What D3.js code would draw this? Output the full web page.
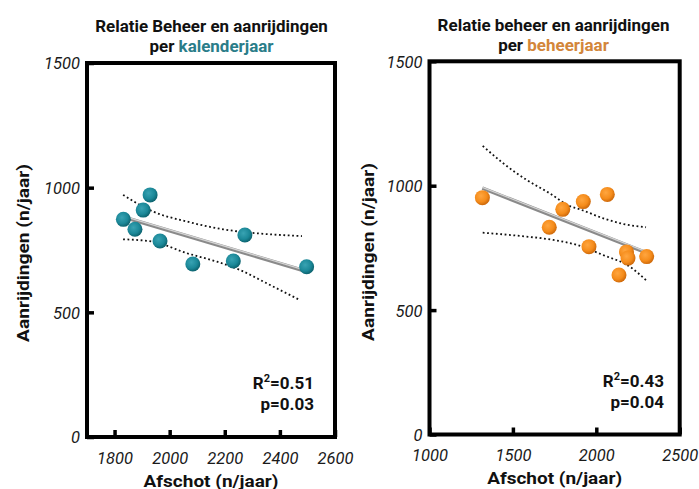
<!DOCTYPE html>
<html>
<head>
<meta charset="utf-8">
<script src="https://cdn.jsdelivr.net/npm/d3@7"></script>
<style>
body{margin:0;background:#fff;}
svg{display:block;font-family:Roboto,'Liberation Sans',sans-serif;}
</style>
</head>
<body>
<div id="chart"></div>
<script>
// per kalenderjaar
var kalAfschot = [1832, 1874, 1904, 1929, 1965, 2084, 2231, 2273, 2497];
var kalAanrij  = [873, 833, 910, 971, 786, 694, 706, 810, 683];
var kalFitX = [1832, 2497], kalFitY = [882, 664];
var kalUpX = [1831, 1940, 2063, 2194, 2317, 2480];
var kalUpY = [971, 904, 864, 833, 817, 806];
var kalLoX = [1831, 1940, 2063, 2172, 2255, 2353, 2473];
var kalLoY = [793, 783, 737, 703, 670, 616, 549];
var kalXTicks = [1800, 2000, 2200, 2400, 2600];
var kalStats = ['0.51', '0.03'];

// per beheerjaar
var behAfschot = [1317, 1718, 1799, 1922, 2066, 1956, 2181, 2190, 2136, 2302];
var behAanrij  = [952, 833, 905, 936, 965, 755, 734, 709, 641, 715];
var behFitX = [1317, 2302], behFitY = [990, 730];
var behUpX = [1319, 1442, 1583, 1722, 1842, 1902, 2042, 2162, 2298];
var behUpY = [1160, 1090, 1023, 969, 918, 905, 869, 846, 833];
var behLoX = [1319, 1543, 1742, 1883, 2042, 2202, 2302];
var behLoY = [811, 798, 782, 762, 721, 674, 618];
var behXTicks = [1000, 1500, 2000, 2500];
var behStats = ['0.43', '0.04'];

var yTicks = [0, 500, 1000, 1500];

var svg = d3.select('#chart').append('svg').attr('width', 699).attr('height', 489);

var defs = svg.append('defs');
function ball(id, c0, c1, c2) {
    var gr = defs.append('radialGradient').attr('id', id).attr('cx', '40%').attr('cy', '38%').attr('r', '62%');
    gr.append('stop').attr('offset', '0%').attr('stop-color', c0);
    gr.append('stop').attr('offset', '65%').attr('stop-color', c1);
    gr.append('stop').attr('offset', '100%').attr('stop-color', c2);
}
ball('teal', '#39a3b3', '#1b8898', '#0d6470');
ball('orange', '#ffa640', '#f58c1b', '#cf6a0b');

// squeeze a text group to a given width
function fit(g, w, tr) {
    var bw = g.node().getBBox().width;
    g.attr('transform', tr + ' scale(' + (w / bw) + ',1)');
}

function drawPanel(p) {
    var x = d3.scaleLinear().domain(p.xDomain).range([p.x0, p.x1]);
    var y = d3.scaleLinear().domain([0, 1500]).range([p.y1, p.y0]);
    var g = svg.append('g');

    // titles
    var t1 = g.append('g');
    t1.append('text').attr('text-anchor', 'middle').style('font-size', '16px').style('font-weight', 700)
        .attr('fill', '#111').text(p.title);
    var sc = p.titleW / t1.node().getBBox().width;
    t1.attr('transform', 'translate(' + p.tcx + ',' + p.tb1 + ') scale(' + sc + ',1)');
    var t2 = g.append('g').attr('transform', 'translate(' + p.tcx + ',' + p.tb2 + ') scale(' + sc + ',1)');
    var tt = t2.append('text').attr('text-anchor', 'middle').style('font-size', '16px').style('font-weight', 700).attr('fill', '#111');
    tt.append('tspan').text('per ');
    tt.append('tspan').attr('fill', p.wordColor).text(p.word);

    // axes with inward ticks
    var xa = g.append('g').attr('transform', 'translate(0,' + p.y1 + ')')
        .call(d3.axisBottom(x).tickValues(p.xTicks).tickSize(-7).tickPadding(15).tickFormat(d3.format('d')));
    var ya = g.append('g').attr('transform', 'translate(' + p.x0 + ',0)')
        .call(d3.axisLeft(y).tickValues(yTicks).tickSize(-7).tickPadding(7).tickFormat(d3.format('d')));
    [xa, ya].forEach(a => {
        a.select('.domain').remove();
        a.selectAll('line').attr('stroke', '#000').attr('stroke-width', 3.5);
        a.selectAll('text').attr('fill', '#1a1a1a').style('font-size', '16.5px').style('font-style', 'italic')
            .style('font-weight', 400).style('font-family', 'Roboto, sans-serif');
    });
    ya.selectAll('text').attr('dy', '0.36em');

    // frame
    g.append('rect').attr('x', p.x0).attr('y', p.y0).attr('width', p.x1 - p.x0).attr('height', p.y1 - p.y0)
        .attr('fill', 'none').attr('stroke', '#000').attr('stroke-width', 4);

    // confidence bands
    var ln = d3.line().x(d => x(d[0])).y(d => y(d[1])).curve(d3.curveMonotoneX);
    [[p.upX, p.upY], [p.loX, p.loY]].forEach(b => {
        g.append('path').attr('d', ln(d3.zip(b[0], b[1]))).attr('fill', 'none')
            .attr('stroke', '#111').attr('stroke-width', 1.8).attr('stroke-dasharray', '1.8,2.6');
    });

    // fit line
    var fl = d3.line().x(d => x(d[0])).y(d => y(d[1]));
    g.append('path').attr('d', fl(d3.zip(p.fitX, p.fitY))).attr('stroke', '#8a8a8a').attr('stroke-width', 3.6);
    g.append('path').attr('d', fl(d3.zip(p.fitX, p.fitY))).attr('stroke', '#d4d4d4').attr('stroke-width', 1.3)
        .attr('transform', 'translate(0,-0.9)');

    // points
    g.selectAll('circle.pt').data(d3.zip(p.ax, p.ay)).enter().append('circle').attr('class', 'pt')
        .attr('cx', d => x(d[0])).attr('cy', d => y(d[1])).attr('r', 7.5).attr('fill', 'url(#' + p.grad + ')');

    // stats
    var st = g.append('text').attr('text-anchor', 'end').attr('x', p.sx).attr('y', p.y1 - 48)
        .style('font-size', '17px').style('font-weight', 700).attr('fill', '#111');
    st.append('tspan').text('R');
    st.append('tspan').attr('dy', -7).style('font-size', '11px').text('2');
    st.append('tspan').attr('dy', 7).text('=' + p.stats[0]);
    g.append('text').attr('text-anchor', 'end').attr('x', p.sx).attr('y', p.y1 - 27)
        .style('font-size', '17px').style('font-weight', 700).attr('fill', '#111').text('p=' + p.stats[1]);

    // axis titles
    var xl = g.append('g');
    xl.append('text').attr('text-anchor', 'middle').style('font-size', '17px').style('font-weight', 700)
        .attr('fill', '#111').text('Afschot (n/jaar)');
    fit(xl, 135, 'translate(' + ((p.x0 + p.x1) / 2) + ',' + (p.y1 + 49.5) + ')');
    var yl = g.append('g');
    yl.append('text').attr('text-anchor', 'middle').style('font-size', '17px').style('font-weight', 700)
        .attr('fill', '#111').text('Aanrijdingen (n/jaar)');
    fit(yl, 178, 'translate(' + p.ylx + ',' + p.ylc + ') rotate(-90)');
}

drawPanel({
    x0: 87, x1: 335, y0: 63, y1: 437, xDomain: [1700, 2600], xTicks: kalXTicks,
    title: 'Relatie Beheer en aanrijdingen', word: 'kalenderjaar', wordColor: '#2a7d89',
    tcx: 211.5, tb1: 32.3, tb2: 52.3, titleW: 233,
    ax: kalAfschot, ay: kalAanrij, fitX: kalFitX, fitY: kalFitY,
    upX: kalUpX, upY: kalUpY, loX: kalLoX, loY: kalLoY, grad: 'teal',
    stats: kalStats, sx: 314, ylx: 28.5, ylc: 253
});
drawPanel({
    x0: 429.5, x1: 679.7, y0: 61.3, y1: 434.5, xDomain: [1000, 2500], xTicks: behXTicks,
    title: 'Relatie beheer en aanrijdingen', word: 'beheerjaar', wordColor: '#d3863a',
    tcx: 553.5, tb1: 30.7, tb2: 50.7, titleW: 232,
    ax: behAfschot, ay: behAanrij, fitX: behFitX, fitY: behFitY,
    upX: behUpX, upY: behUpY, loX: behLoX, loY: behLoY, grad: 'orange',
    stats: behStats, sx: 664, ylx: 373.5, ylc: 252
});
</script>
</body>
</html>
